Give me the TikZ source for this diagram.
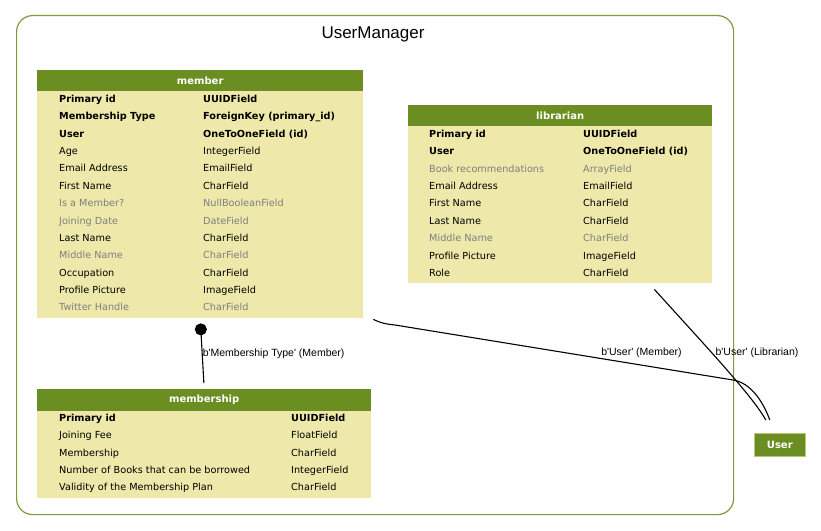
\documentclass[tikz,border=0pt]{standalone}
\usepackage{fontspec}
\setmainfont{DejaVu Sans}
\newfontfamily\labelfont{Liberation Sans}
\usetikzlibrary{arrows.meta}
\definecolor{hdrgreen}{HTML}{6B8E23}
\definecolor{bodyyellow}{HTML}{EEE8AA}
\definecolor{fieldgray}{HTML}{7F7F7F}
\definecolor{clusterline}{HTML}{7D9B3E}
\newcommand{\tq}{\textquotesingle}
\begin{document}
\begin{tikzpicture}
[x=1bp, y=-1bp,
  cluster/.style={shape=rectangle,anchor=north west,draw=clusterline,line width=1.2bp,rounded corners=16bp,inner sep=0pt},%
  tablehead/.style={shape=rectangle,anchor=north west,fill=hdrgreen,text=white,inner sep=0pt,font=\fontsize{10bp}{12bp}\selectfont\bfseries},%
  tablebody/.style={shape=rectangle,anchor=north west,fill=bodyyellow,inner sep=0pt},%
  fieldn/.style={anchor=base west,inner sep=0pt,font=\fontsize{9.7bp}{11bp}\selectfont},%
  fieldb/.style={fieldn,font=\fontsize{9.7bp}{11bp}\selectfont\bfseries},%
  fieldg/.style={fieldn,text=fieldgray},%
  edgelabel/.style={inner sep=0pt,font=\labelfont\fontsize{10.5bp}{12bp}\selectfont},%
  linkline/.style={-,line width=1.1bp}]
\useasboundingbox (0,0) rectangle (821,531);
%% cluster
\node (usermanager) [cluster,minimum width=717bp,minimum height=499bp] at (16,15) {};
\node (title) at (373,34) {\labelfont\fontsize{17bp}{20bp}\selectfont UserManager};
%% tables
\node (member) [tablehead,minimum width=326bp,minimum height=21bp] at (37,70) {member};
\node (memberbody) [tablebody,minimum width=326bp,minimum height=227bp] at (37,91) {};
\node (librarian) [tablehead,minimum width=304bp,minimum height=21bp] at (408,105) {librarian};
\node (librarianbody) [tablebody,minimum width=304bp,minimum height=157bp] at (408,126) {};
\node (membership) [tablehead,minimum width=334bp,minimum height=22bp] at (37,389) {membership};
\node (membershipbody) [tablebody,minimum width=334bp,minimum height=87bp] at (37,411) {};
\node (user) [tablehead,minimum width=51bp,minimum height=23bp,draw=bodyyellow!60!hdrgreen,line width=0.6bp] at (754,433) {User};
%% fields
\foreach \fname/\ftype/\kind [count=\i] in {Primary id/UUIDField/fieldb,
  Membership Type/ForeignKey (primary\_id)/fieldb, User/OneToOneField (id)/fieldb,
  Age/IntegerField/fieldn, Email Address/EmailField/fieldn, First Name/CharField/fieldn,
  Is a Member?/NullBooleanField/fieldg, Joining Date/DateField/fieldg,
  Last Name/CharField/fieldn, Middle Name/CharField/fieldg, Occupation/CharField/fieldn,
  Profile Picture/ImageField/fieldn, Twitter Handle/CharField/fieldg}
{
  \node (member-n\i) [\kind] at (59,85.25+17.35*\i) {\fname};
  \node (member-t\i) [\kind] at (203,85.25+17.35*\i) {\ftype};
}
\foreach \fname/\ftype/\kind [count=\i] in {Primary id/UUIDField/fieldb,
  User/OneToOneField (id)/fieldb, Book recommendations/ArrayField/fieldg,
  Email Address/EmailField/fieldn, First Name/CharField/fieldn,
  Last Name/CharField/fieldn, Middle Name/CharField/fieldg,
  Profile Picture/ImageField/fieldn, Role/CharField/fieldn}
{
  \node (librarian-n\i) [\kind] at (429,120.25+17.35*\i) {\fname};
  \node (librarian-t\i) [\kind] at (583,120.25+17.35*\i) {\ftype};
}
\foreach \fname/\ftype/\kind [count=\i] in {Primary id/UUIDField/fieldb,
  Joining Fee/FloatField/fieldn, Membership/CharField/fieldn,
  Number of Books that can be borrowed/IntegerField/fieldn,
  Validity of the Membership Plan/CharField/fieldn}
{
  \node (membership-n\i) [\kind] at (59,404.35+17.25*\i) {\fname};
  \node (membership-t\i) [\kind] at (291,404.35+17.25*\i) {\ftype};
}
%% edges
\draw [linkline,-{Circle[length=12bp]},shorten <=6bp,shorten >=5bp] (membership.north)
  -- node [edgelabel,anchor=west] {b\tq Membership Type\tq{} (Member)} (memberbody.south);
\draw [linkline] ([shift={(10,1)}]memberbody.south east) .. controls (381,323) and (385,324) .. (395,325)
  -- (733,380) .. controls (752,383) and (764,404) .. ([shift={(-10,-13)}]user.north);
\draw [linkline] ([shift={(-58,6)}]librarianbody.south east) .. controls (700,340) and (752,395)
  .. ([shift={(-14,-13)}]user.north);
\node (memberuser) [edgelabel] at (641.5,353) {b\tq User\tq{} (Member)};
\node (librarianuser) [edgelabel] at (757,353) {b\tq User\tq{} (Librarian)};
\end{tikzpicture}
\end{document}
